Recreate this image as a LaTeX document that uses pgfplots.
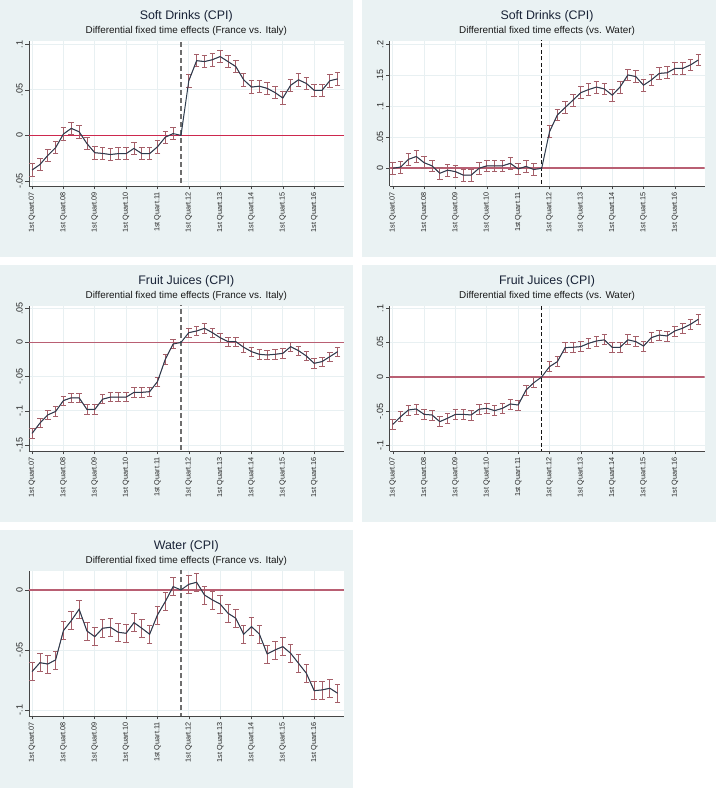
\documentclass[border=0pt]{standalone}
\usepackage{fontspec}
\setmainfont{Liberation Sans}
\usepackage{pgfplots}
\usepackage{pgfplotstable}
\pgfplotsset{compat=1.18}
\definecolor{panelcol}{RGB}{234,242,243}
\definecolor{gridcol}{RGB}{232,240,242}
\definecolor{linecol}{RGB}{45,60,78}
\definecolor{ebcol}{RGB}{165,95,105}
\definecolor{zerocolA}{RGB}{205,40,78}
\definecolor{zerocolB}{RGB}{185,95,115}
\definecolor{dashcolA}{RGB}{110,110,110}
\definecolor{dashcolB}{RGB}{20,20,20}
\definecolor{axcol}{RGB}{70,70,70}
\definecolor{titlecol}{RGB}{25,35,55}

\pgfplotstableread{
x y e
0 -0.038 0.0068
1 -0.032 0.0068
2 -0.022 0.0068
3 -0.0135 0.0068
4 0.0015 0.0068
5 0.0077 0.0068
6 0.004 0.0068
7 -0.009 0.0068
8 -0.019 0.0068
9 -0.0198 0.0068
10 -0.021 0.0068
11 -0.02 0.0068
12 -0.02 0.0068
13 -0.0143 0.0068
14 -0.02 0.0068
15 -0.02 0.0068
16 -0.0125 0.0068
17 -0.002 0.0068
18 0.002 0.0068
19 0 0
20 0.060 0.0068
21 0.082 0.0068
22 0.081 0.0068
23 0.083 0.0068
24 0.0865 0.0068
25 0.081 0.0068
26 0.0755 0.0068
27 0.061 0.0068
28 0.053 0.0068
29 0.054 0.0068
30 0.0516 0.0068
31 0.047 0.0068
32 0.041 0.0068
33 0.055 0.0068
34 0.061 0.0068
35 0.057 0.0068
36 0.0495 0.0068
37 0.0495 0.0068
38 0.060 0.0068
39 0.062 0.0068
}\tabA

\pgfplotstableread{
x y e
0 0.0 0.0095
1 0.002 0.0095
2 0.0145 0.0095
3 0.019 0.0095
4 0.009 0.0095
5 0.004 0.0095
6 -0.008 0.0095
7 -0.003 0.0095
8 -0.0054 0.0095
9 -0.011 0.0095
10 -0.011 0.0095
11 0.0 0.0095
12 0.004 0.0095
13 0.004 0.0095
14 0.004 0.0095
15 0.008 0.0095
16 -0.001 0.0095
17 0.003 0.0095
18 -0.002 0.0095
19 0 0
20 0.059 0.0095
21 0.086 0.0095
22 0.098 0.0095
23 0.110 0.0095
24 0.122 0.0095
25 0.127 0.0095
26 0.131 0.0095
27 0.128 0.0095
28 0.118 0.0095
29 0.131 0.0095
30 0.1505 0.0095
31 0.148 0.0095
32 0.134 0.0095
33 0.1425 0.0095
34 0.153 0.0095
35 0.154 0.0095
36 0.161 0.0095
37 0.161 0.0095
38 0.1667 0.0095
39 0.1747 0.0095
}\tabB

\pgfplotstableread{
x y e
0 -0.133 0.0068
1 -0.118 0.0068
2 -0.106 0.0068
3 -0.101 0.0068
4 -0.085 0.0068
5 -0.081 0.0068
6 -0.081 0.0068
7 -0.098 0.0068
8 -0.098 0.0068
9 -0.083 0.0068
10 -0.080 0.0068
11 -0.080 0.0068
12 -0.080 0.0068
13 -0.073 0.0068
14 -0.073 0.0068
15 -0.072 0.0068
16 -0.0573 0.0068
17 -0.0246 0.0068
18 -0.0022 0.0068
19 0 0
20 0.0144 0.0068
21 0.0168 0.0068
22 0.0207 0.0068
23 0.0144 0.0068
24 0.007 0.0068
25 0.0012 0.0068
26 0.0012 0.0068
27 -0.007 0.0068
28 -0.0134 0.0068
29 -0.0173 0.0068
30 -0.0183 0.0068
31 -0.0173 0.0068
32 -0.0159 0.0068
33 -0.0061 0.0068
34 -0.012 0.0068
35 -0.0198 0.0068
36 -0.0305 0.0068
37 -0.028 0.0068
38 -0.0207 0.0068
39 -0.0134 0.0068
}\tabC

\pgfplotstableread{
x y e
0 -0.069 0.0073
1 -0.0578 0.0073
2 -0.048 0.0073
3 -0.0466 0.0073
4 -0.0544 0.0073
5 -0.0553 0.0073
6 -0.065 0.0073
7 -0.060 0.0073
8 -0.0544 0.0073
9 -0.0544 0.0073
10 -0.0553 0.0073
11 -0.047 0.0073
12 -0.0456 0.0073
13 -0.049 0.0073
14 -0.0456 0.0073
15 -0.0393 0.0073
16 -0.0408 0.0073
17 -0.019 0.0073
18 -0.0083 0.0073
19 0 0
20 0.015 0.0073
21 0.0223 0.0073
22 0.0427 0.0073
23 0.0432 0.0073
24 0.0442 0.0073
25 0.049 0.0073
26 0.0524 0.0073
27 0.054 0.0073
28 0.0432 0.0073
29 0.0432 0.0073
30 0.054 0.0073
31 0.0515 0.0073
32 0.045 0.0073
33 0.0573 0.0073
34 0.061 0.0073
35 0.0597 0.0073
36 0.067 0.0073
37 0.071 0.0073
38 0.0767 0.0073
39 0.084 0.0073
}\tabD

\pgfplotstableread{
x y e
0 -0.068 0.0075
1 -0.0606 0.0075
2 -0.0617 0.0075
3 -0.0583 0.0075
4 -0.0339 0.0075
5 -0.0256 0.0075
6 -0.0161 0.0075
7 -0.0342 0.0075
8 -0.0389 0.0075
9 -0.0319 0.0075
10 -0.0311 0.0075
11 -0.0353 0.0075
12 -0.0361 0.0075
13 -0.0272 0.0075
14 -0.0319 0.0075
15 -0.0369 0.0075
16 -0.0208 0.0075
17 -0.0097 0.0075
18 0.0028 0.0075
19 0 0
20 0.0047 0.0075
21 0.0064 0.0075
22 -0.0042 0.0075
23 -0.0083 0.0075
24 -0.0117 0.0075
25 -0.0194 0.0075
26 -0.0236 0.0075
27 -0.0369 0.0075
28 -0.0306 0.0075
29 -0.0367 0.0075
30 -0.0533 0.0075
31 -0.050 0.0075
32 -0.0472 0.0075
33 -0.0528 0.0075
34 -0.0611 0.0075
35 -0.0694 0.0075
36 -0.0839 0.0075
37 -0.0833 0.0075
38 -0.0819 0.0075
39 -0.0861 0.0075
}\tabE

\pgfplotsset{
  panel/.style={
    scale only axis, width=315bp, height=145bp,
    xmin=-0.42, xmax=39.78,
    axis x line*=bottom, axis y line*=left,
    axis line style={draw=axcol, line width=0.6bp},
    xtick={0,4,...,36},
    xticklabels={1st Quart.07,1st Quart.08,1st Quart.09,1st Quart.10,1st Quart.11,1st Quart.12,1st Quart.13,1st Quart.14,1st Quart.15,1st Quart.16},
    xticklabel style={rotate=90, anchor=east, font=\fontsize{7.3bp}{8bp}\selectfont, text=black!85, inner sep=2.5bp},
    yticklabel style={rotate=90, anchor=south, font=\fontsize{9bp}{10bp}\selectfont, text=black!85, inner sep=2.5bp},
    tick align=outside, major tick length=3.5bp,
    tick style={draw=axcol, line width=0.6bp},
    grid=major, major grid style={draw=gridcol, line width=0.9bp},
    axis background/.style={fill=white},
    clip mode=individual,
    unbounded coords=jump,
  },
}
\newcommand{\paneltitles}[2]{%
  \node[font=\fontsize{12.4bp}{13bp}\selectfont, text=titlecol, anchor=base] at ([yshift=21bp]rel axis cs:0.5,1) {#1};
  \node[font=\fontsize{9.9bp}{11bp}\selectfont, text=black!90, anchor=base] at ([yshift=7.5bp]rel axis cs:0.5,1) {#2};
}
% #1 table, #2 zero-line options, #3 dashed-line options
\newcommand{\panelplots}[3]{%
  \addplot[#2] coordinates {(-1,0) (41,0)};
  \addplot[#3] coordinates {(19,-1) (19,1)};
  \addplot[ebcol, line width=0.5bp,
    error bars/.cd, y dir=both, y explicit,
    error bar style={draw=ebcol, line width=0.8bp},
    error mark=|,
    error mark options={draw=ebcol, line width=0.8bp, mark size=2.8bp}]
    table[x=x, y expr={\thisrow{x}==19 ? nan : \thisrow{y}}, y error=e] {#1};
  \addplot[linecol, line width=1bp] table[x=x, y=y] {#1};
}

\begin{document}
\begin{tikzpicture}[x=1bp,y=1bp]
\useasboundingbox (0,0) rectangle (716,790);
\fill[white] (0,0) rectangle (716,790);
\fill[panelcol] (0,533) rectangle (353,790);
\fill[panelcol] (362,533) rectangle (716,790);
\fill[panelcol] (0,268) rectangle (353,525);
\fill[panelcol] (362,268) rectangle (716,525);
\fill[panelcol] (0,2) rectangle (353,260);

\begin{axis}[panel, at={(28.8bp,604bp)}, anchor=south west,
  ymin=-0.0555, ymax=0.1036,
  ytick={-0.05,0,0.05,0.1}, yticklabels={-.05,0,.05,.1}]
  \panelplots{\tabA}{draw=zerocolA, line width=1.3bp}{draw=dashcolA, line width=1.5bp, dash pattern=on 5bp off 3bp}
  \paneltitles{Soft Drinks (CPI)}{Differential fixed time effects (France vs. Italy)}
\end{axis}

\begin{axis}[panel, at={(389.5bp,604bp)}, anchor=south west,
  ymin=-0.0285, ymax=0.2053,
  ytick={0,0.05,0.1,0.15,0.2}, yticklabels={0,.05,.1,.15,.2}]
  \panelplots{\tabB}{draw=zerocolB, line width=1.8bp}{draw=dashcolB, line width=1bp, dash pattern=on 4bp off 2.5bp}
  \paneltitles{Soft Drinks (CPI)}{Differential fixed time effects (vs. Water)}
\end{axis}

\begin{axis}[panel, at={(28.8bp,339bp)}, anchor=south west,
  ymin=-0.1588, ymax=0.0534,
  ytick={-0.15,-0.1,-0.05,0,0.05}, yticklabels={-.15,-.1,-.05,0,.05}]
  \panelplots{\tabC}{draw=zerocolB, line width=1.8bp}{draw=dashcolA, line width=1.5bp, dash pattern=on 5bp off 3bp}
  \paneltitles{Fruit Juices (CPI)}{Differential fixed time effects (France vs. Italy)}
\end{axis}

\begin{axis}[panel, at={(389.5bp,339bp)}, anchor=south west,
  ymin=-0.1077, ymax=0.1033,
  ytick={-0.1,-0.05,0,0.05,0.1}, yticklabels={-.1,-.05,0,.05,.1}]
  \panelplots{\tabD}{draw=zerocolB, line width=1.4bp}{draw=dashcolB, line width=1bp, dash pattern=on 4bp off 2.5bp}
  \paneltitles{Fruit Juices (CPI)}{Differential fixed time effects (vs. Water)}
\end{axis}

\begin{axis}[panel, at={(28.8bp,74bp)}, anchor=south west,
  ymin=-0.105, ymax=0.0158,
  ytick={-0.1,-0.05,0}, yticklabels={-.1,-.05,0}]
  \panelplots{\tabE}{draw=zerocolB, line width=1.8bp}{draw=dashcolA, line width=1.5bp, dash pattern=on 5bp off 3bp}
  \paneltitles{Water (CPI)}{Differential fixed time effects (France vs. Italy)}
\end{axis}
\end{tikzpicture}
\end{document}
